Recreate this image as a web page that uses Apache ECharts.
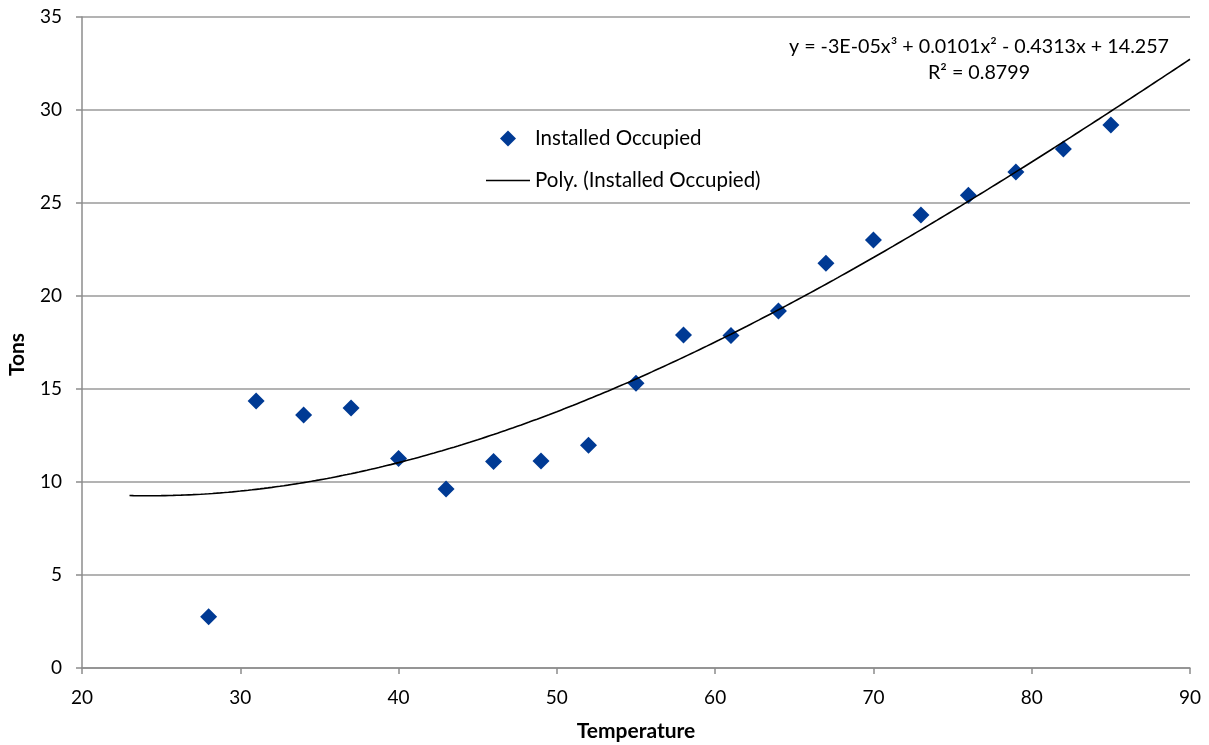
<!DOCTYPE html>
<html>
<head>
<meta charset="utf-8">
<script src="https://cdn.jsdelivr.net/npm/echarts@6/dist/echarts.min.js"></script>
<style>
  html, body { margin: 0; padding: 0; background: #fff; }
  #chart { width: 1209px; height: 745px; }
</style>
</head>
<body>
<div id="chart"></div>
<script>
// Measured load (tons) at each outdoor temperature
const temperatures = [28, 31, 34, 37, 40, 43, 46, 49, 52, 55, 58, 61, 64, 67, 70, 73, 76, 79, 82, 85];
const tons = [2.75, 14.35, 13.6, 13.98, 11.27, 9.62, 11.1, 11.13, 11.97, 15.31, 17.9, 17.88, 19.19, 21.76, 23.01, 24.35, 25.41, 26.67, 27.9, 29.19];

// Trendline label and range (backward/forward forecast)
const trendName = 'Poly. (Installed Occupied)';
const seriesName = 'Installed Occupied';
const equationText = 'y = -3E-05x³ + 0.0101x² - 0.4313x + 14.257';
const rSquaredText = 'R² = 0.8799';
const trendFrom = 23;
const trendTo = 90;

const xTicks = { min: 20, max: 90, interval: 10 };
const yTicks = { min: 0, max: 35, interval: 5 };

// Least-squares cubic fit of tons vs temperature
function polyFit(xs, ys, degree) {
  const n = degree + 1;
  const A = [];
  for (let i = 0; i < n; i++) {
    A.push(new Array(n + 1).fill(0));
  }
  for (let k = 0; k < xs.length; k++) {
    for (let i = 0; i < n; i++) {
      for (let j = 0; j < n; j++) A[i][j] += Math.pow(xs[k], i + j);
      A[i][n] += ys[k] * Math.pow(xs[k], i);
    }
  }
  for (let c = 0; c < n; c++) {
    let p = c;
    for (let r = c + 1; r < n; r++) if (Math.abs(A[r][c]) > Math.abs(A[p][c])) p = r;
    [A[c], A[p]] = [A[p], A[c]];
    for (let r = 0; r < n; r++) {
      if (r === c) continue;
      const f = A[r][c] / A[c][c];
      for (let j = c; j <= n; j++) A[r][j] -= f * A[c][j];
    }
  }
  return A.map((row, i) => row[n] / row[i]);
}

const coef = polyFit(temperatures, tons, 3);
const trend = [];
for (let x = trendFrom; x <= trendTo + 1e-9; x += 0.25) {
  let y = 0;
  for (let i = 0; i < coef.length; i++) y += coef[i] * Math.pow(x, i);
  trend.push([x, y]);
}

const FONT = 'Lato';
const chart = echarts.init(document.getElementById('chart'), null, { renderer: 'canvas' });

chart.setOption({
  animation: false,
  backgroundColor: '#ffffff',
  textStyle: { fontFamily: FONT },
  grid: { left: 82, right: 19, top: 17, bottom: 77, containLabel: false, outerBoundsMode: 'none' },
  legend: {
    orient: 'vertical',
    left: 481,
    top: 123,
    itemWidth: 44,
    itemHeight: 16,
    itemGap: 21,
    symbolKeepAspect: true,
    textStyle: { fontFamily: FONT, fontSize: 20.5, color: '#000' },
    data: [
      { name: seriesName, icon: 'path://M5,0 L10,5 L5,10 L0,5 Z', itemStyle: { color: '#003a94', opacity: 1 } },
      { name: trendName, icon: 'path://M0,0 L44,0 L44,1.3 L0,1.3 Z', itemStyle: { color: '#000' } }
    ]
  },
  graphic: [
    {
      type: 'text',
      x: 979,
      y: 34,
      style: {
        text: equationText + '\n' + rSquaredText,
        fontFamily: FONT,
        fontSize: 19.7,
        lineHeight: 26,
        fill: '#000',
        align: 'center',
        verticalAlign: 'top'
      }
    }
  ],
  xAxis: {
    type: 'value',
    min: xTicks.min,
    max: xTicks.max,
    interval: xTicks.interval,
    name: 'Temperature',
    nameLocation: 'middle',
    nameGap: 53,
    nameTextStyle: { fontFamily: FONT, fontSize: 21, fontWeight: 'bold', color: '#000' },
    axisLine: { show: true, onZero: false, lineStyle: { color: '#8c8c8c', width: 1.5 } },
    axisTick: { show: true, length: 6, inside: false, lineStyle: { color: '#8c8c8c', width: 1.5 } },
    axisLabel: { fontFamily: FONT, fontSize: 19, color: '#000', margin: 20 },
    splitLine: { show: false }
  },
  yAxis: {
    type: 'value',
    min: yTicks.min,
    max: yTicks.max,
    interval: yTicks.interval,
    name: 'Tons',
    nameLocation: 'middle',
    nameGap: 54,
    nameRotate: 90,
    nameTextStyle: { fontFamily: FONT, fontSize: 21, fontWeight: 'bold', color: '#000', padding: [0, 24, 0, 0] },
    axisLine: { show: true, onZero: false, lineStyle: { color: '#8c8c8c', width: 1.5 } },
    axisTick: { show: true, length: 6, inside: false, lineStyle: { color: '#8c8c8c', width: 1.5 } },
    axisLabel: { fontFamily: FONT, fontSize: 19, color: '#000', margin: 20 },
    splitLine: { show: true, lineStyle: { color: '#9a9a9a', width: 1.5 } }
  },
  series: [
    {
      name: seriesName,
      type: 'scatter',
      symbol: 'diamond',
      symbolSize: 17,
      itemStyle: { color: '#003a94', opacity: 1 },
      data: temperatures.map((t, i) => [t, tons[i]]),
      z: 3
    },
    {
      name: trendName,
      type: 'line',
      showSymbol: false,
      symbol: 'none',
      smooth: false,
      lineStyle: { color: '#000', width: 1.6 },
      itemStyle: { color: '#000' },
      data: trend,
      z: 4
    }
  ]
});
</script>
</body>
</html>
